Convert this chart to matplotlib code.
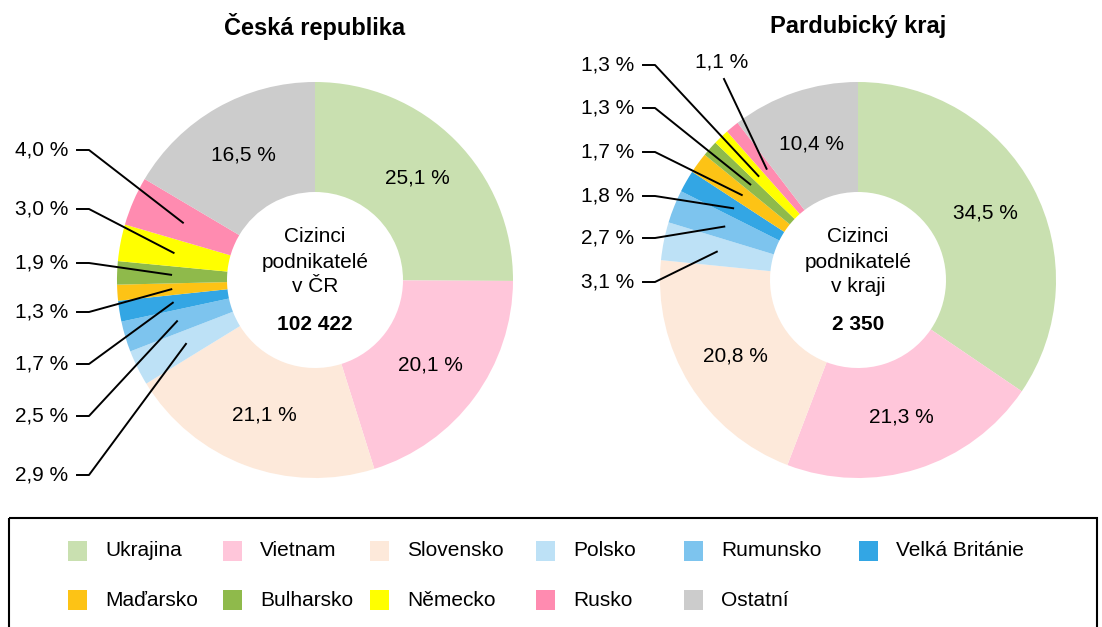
import matplotlib.pyplot as plt
from matplotlib.patches import Rectangle
import numpy as np

plt.rcParams['font.family'] = ['Liberation Sans', 'DejaVu Sans']

countries = ['Ukrajina', 'Vietnam', 'Slovensko', 'Polsko', 'Rumunsko', 'Velká Británie',
             'Maďarsko', 'Bulharsko', 'Německo', 'Rusko', 'Ostatní']
colors = ['#c9e0b0', '#ffc6da', '#fde9da', '#bde1f6', '#7dc4ee', '#33a6e4',
          '#fdc315', '#8fba4b', '#ffff00', '#ff8bb0', '#cccccc']
cr_values = [25.1, 20.1, 21.1, 2.9, 2.5, 1.7, 1.3, 1.9, 3.0, 4.0, 16.5]
pk_values = [34.5, 21.3, 20.8, 3.1, 2.7, 1.8, 1.7, 1.3, 1.3, 1.1, 10.4]
cr_total = '102 422'
pk_total = '2 350'

W, H = 1102, 627
fig = plt.figure(figsize=(W / 100, H / 100), dpi=100)
ax = fig.add_axes([0, 0, 1, 1])

R = 198
RING = 110
FS = 15


def fmt(v):
    return f'{v:.1f} %'.replace('.', ',')


def donut(cx, cy, values, title, center_lines, total, small_pos):
    # y axis is inverted (pixel coords), so angles run the other way
    wedges, _ = ax.pie(values, colors=colors, radius=R, center=(cx, cy),
                       startangle=-90, counterclock=True,
                       wedgeprops=dict(width=RING, edgecolor='none'))
    mids = {}
    for i, w in enumerate(wedges):
        th = np.radians((w.theta1 + w.theta2) / 2)
        mids[i] = (cx + 144 * np.cos(th), cy + 144 * np.sin(th))
        if values[i] >= 10:
            ax.text(*mids[i], fmt(values[i]), ha='center', va='center', fontsize=FS)
    # small slices: labels with leader lines
    for i, (tx, ty, mode) in small_pos.items():
        axx, ayy = mids[i]
        if mode == 'left':
            ax.text(tx, ty, fmt(values[i]), ha='right', va='center', fontsize=FS)
            ax.plot([tx + 9, tx + 21, axx], [ty, ty, ayy], color='black', lw=1.4)
        else:
            ax.text(tx, ty, fmt(values[i]), ha='center', va='center', fontsize=FS)
            ax.plot([tx + 2, axx], [ty + 17, ayy], color='black', lw=1.4)
    ax.text(cx, 27, title, ha='center', va='center', fontsize=17, fontweight='bold')
    for k, line in enumerate(center_lines):
        ax.text(cx, cy - 43 + 25 * k, line, ha='center', va='center', fontsize=FS)
    ax.text(cx, cy + 45, total, ha='center', va='center', fontsize=FS, fontweight='bold')


donut(315, 280, cr_values, 'Česká republika', ['Cizinci', 'podnikatelé', 'v ČR'], cr_total,
      {3: (68, 475, 'left'), 4: (68, 416, 'left'), 5: (68, 364, 'left'),
       6: (68, 312, 'left'), 7: (68, 263, 'left'), 8: (68, 209, 'left'),
       9: (68, 150, 'left')})
donut(858, 280, pk_values, 'Pardubický kraj', ['Cizinci', 'podnikatelé', 'v kraji'], pk_total,
      {3: (634, 282, 'left'), 4: (634, 238, 'left'), 5: (634, 196, 'left'),
       6: (634, 152, 'left'), 7: (634, 108, 'left'), 8: (634, 65, 'left'),
       9: (722, 62, 'top')})

# legend
ax.add_patch(Rectangle((9, 518), 1088, 200, fill=False, edgecolor='black', lw=1.5))
col_x = [68, 223, 370, 536, 684, 859]
row_y = [551, 600]
for i, name in enumerate(countries):
    r, c = divmod(i, 6)
    x, y = col_x[c], row_y[r]
    ax.add_patch(Rectangle((x, y - 10), 19, 20, facecolor=colors[i], edgecolor='none'))
    ax.text(x + 37, y, name, ha='left', va='center', fontsize=FS)

ax.set_aspect('auto')
ax.set_xlim(0, W)
ax.set_ylim(H, 0)
ax.axis('off')

fig.savefig('out.png', dpi=100, facecolor='white')
